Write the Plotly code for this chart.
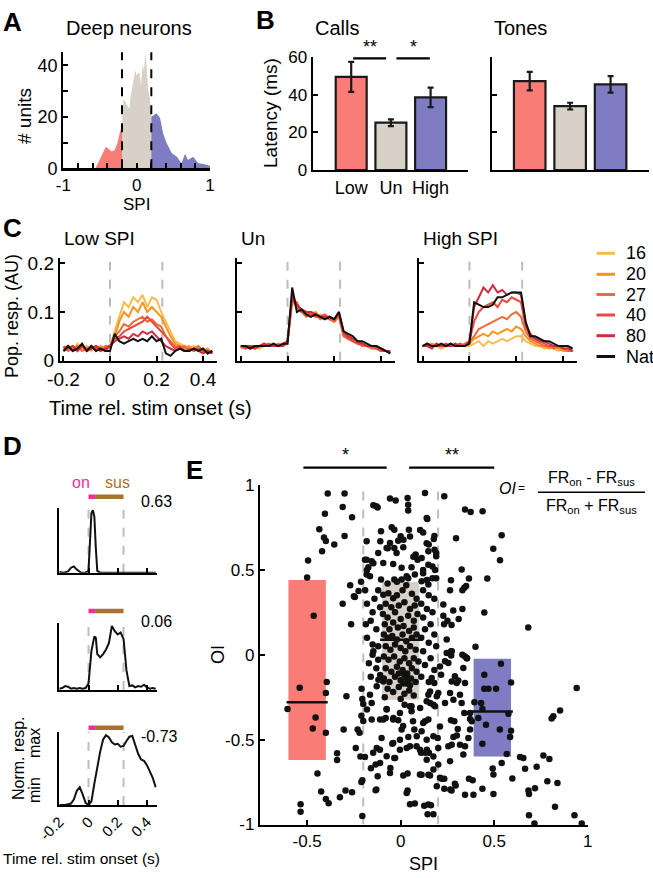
import plotly.graph_objects as go

# ======================= DATA =======================
# Panel A: SPI distribution of deep neurons (# units)
hist_low_spi = [-0.56, -0.5, -0.45, -0.42, -0.38, -0.34, -0.3, -0.26, -0.22, -0.2]
hist_low_n = [0, 3.5, 7, 8.4, 7.5, 6.5, 7, 10, 15, 16]
hist_un_spi = [-0.2, -0.18, -0.16, -0.14, -0.12, -0.1, -0.08, -0.06, -0.04, -0.02, 0, 0.02,
               0.04, 0.06, 0.08, 0.1, 0.12, 0.14, 0.16, 0.18, 0.2]
hist_un_n = [16, 27, 26, 25, 24, 23, 28, 32, 36, 38, 36, 37, 37, 32, 40, 38, 45, 36, 30, 27, 21]
hist_high_spi = [0.2, 0.24, 0.27, 0.32, 0.36, 0.41, 0.48, 0.55, 0.61, 0.66, 0.7, 0.77, 0.84, 0.91, 0.98, 1.0]
hist_high_n = [20, 21, 21.4, 19.5, 13.6, 9.7, 5.8, 4.5, 2, 5.6, 3.2, 4.5, 2, 1.7, 1.2, 1]
spi_bounds = [-0.2, 0.2]

# Panel B: latency (ms)
groups = ["Low", "Un", "High"]
calls_latency = [49.6, 25.2, 38.7]
calls_sem = [8.0, 1.8, 5.2]
tones_latency = [47.3, 34.0, 45.6]
tones_sem = [4.9, 1.8, 4.4]

# Panel C: population responses (AU), time rel. stim onset (s)
t_c = [-0.2, -0.18, -0.16, -0.14, -0.12, -0.1, -0.08, -0.06, -0.04, -0.02, 0.0, 0.02, 0.04, 0.06,
       0.08, 0.1, 0.12, 0.14, 0.16, 0.18, 0.2, 0.22, 0.24, 0.26, 0.28, 0.3, 0.32, 0.34, 0.36, 0.38,
       0.4, 0.42, 0.44]
c_series = ["16", "20", "27", "40", "80", "Nat"]
c_low = {
    "16": [0.025, 0.03, 0.02, 0.035, 0.025, 0.03, 0.02, 0.03, 0.025, 0.02, 0.03, 0.06, 0.09, 0.12, 0.11, 0.13, 0.12,
           0.135, 0.11, 0.13, 0.125, 0.10, 0.08, 0.06, 0.04, 0.035, 0.03, 0.025, 0.03, 0.02, 0.025, 0.02, 0.02],
    "20": [0.02, 0.025, 0.03, 0.02, 0.03, 0.025, 0.03, 0.02, 0.03, 0.025, 0.03, 0.05, 0.08, 0.10, 0.09, 0.11, 0.10,
           0.12, 0.10, 0.11, 0.10, 0.09, 0.07, 0.05, 0.035, 0.03, 0.025, 0.03, 0.02, 0.025, 0.02, 0.025, 0.015],
    "27": [0.03, 0.02, 0.025, 0.03, 0.02, 0.025, 0.03, 0.025, 0.02, 0.03, 0.03, 0.05, 0.06, 0.075, 0.07, 0.08, 0.085,
           0.09, 0.08, 0.085, 0.075, 0.07, 0.05, 0.04, 0.03, 0.025, 0.03, 0.02, 0.025, 0.03, 0.02, 0.02, 0.015],
    "40": [0.025, 0.03, 0.02, 0.025, 0.03, 0.02, 0.025, 0.03, 0.025, 0.02, 0.03, 0.045, 0.05, 0.06, 0.065, 0.07, 0.075,
           0.08, 0.09, 0.08, 0.07, 0.06, 0.05, 0.035, 0.025, 0.03, 0.02, 0.025, 0.02, 0.025, 0.02, 0.015, 0.02],
    "80": [0.02, 0.025, 0.03, 0.02, 0.03, 0.02, 0.025, 0.03, 0.02, 0.025, 0.03, 0.04, 0.045, 0.05, 0.045, 0.055, 0.05,
           0.06, 0.055, 0.06, 0.05, 0.04, 0.03, 0.025, 0.02, 0.025, 0.02, 0.02, 0.025, 0.02, 0.015, 0.02, 0.015],
    "Nat": [0.02, 0.03, 0.02, 0.025, 0.035, 0.02, 0.03, 0.02, 0.025, 0.02, 0.02, 0.055, 0.04, 0.035, 0.04, 0.045, 0.04,
            0.045, 0.04, 0.05, 0.04, 0.045, 0.015, 0.01, 0.02, 0.025, 0.02, 0.02, 0.025, 0.02, 0.025, 0.015, 0.02],
}
c_un = {
    "16": [0.03, 0.025, 0.03, 0.03, 0.025, 0.03, 0.035, 0.03, 0.03, 0.035, 0.04, 0.12, 0.11, 0.10, 0.095, 0.10, 0.09,
           0.095, 0.09, 0.085, 0.085, 0.09, 0.05, 0.045, 0.04, 0.035, 0.035, 0.03, 0.025, 0.025, 0.02, 0.02, 0.015],
    "20": [0.025, 0.03, 0.03, 0.025, 0.03, 0.03, 0.03, 0.035, 0.03, 0.03, 0.035, 0.13, 0.11, 0.105, 0.10, 0.095, 0.10,
           0.09, 0.09, 0.09, 0.08, 0.095, 0.055, 0.05, 0.04, 0.04, 0.03, 0.03, 0.03, 0.025, 0.02, 0.02, 0.015],
    "27": [0.03, 0.03, 0.025, 0.03, 0.03, 0.035, 0.03, 0.03, 0.035, 0.03, 0.04, 0.12, 0.12, 0.10, 0.09, 0.10, 0.095,
           0.085, 0.09, 0.085, 0.08, 0.09, 0.05, 0.045, 0.04, 0.035, 0.03, 0.03, 0.025, 0.025, 0.025, 0.02, 0.015],
    "40": [0.03, 0.025, 0.03, 0.03, 0.03, 0.03, 0.035, 0.03, 0.03, 0.035, 0.04, 0.13, 0.11, 0.10, 0.10, 0.095, 0.09,
           0.09, 0.095, 0.085, 0.085, 0.095, 0.055, 0.045, 0.04, 0.035, 0.035, 0.03, 0.03, 0.025, 0.02, 0.02, 0.02],
    "80": [0.03, 0.03, 0.03, 0.025, 0.03, 0.035, 0.03, 0.03, 0.03, 0.03, 0.04, 0.135, 0.115, 0.105, 0.10, 0.10, 0.095,
           0.09, 0.09, 0.09, 0.085, 0.10, 0.06, 0.05, 0.045, 0.04, 0.035, 0.03, 0.03, 0.03, 0.025, 0.02, 0.02],
    "Nat": [0.03, 0.03, 0.025, 0.03, 0.03, 0.03, 0.03, 0.035, 0.03, 0.035, 0.035, 0.15, 0.10, 0.105, 0.095, 0.09, 0.095,
            0.09, 0.085, 0.09, 0.085, 0.10, 0.06, 0.055, 0.05, 0.04, 0.04, 0.035, 0.03, 0.03, 0.025, 0.02, 0.015],
}
c_high = {
    "16": [0.03, 0.035, 0.03, 0.03, 0.025, 0.03, 0.035, 0.03, 0.03, 0.03, 0.03, 0.035, 0.04, 0.03, 0.04, 0.035, 0.04,
           0.045, 0.04, 0.045, 0.05, 0.05, 0.04, 0.035, 0.03, 0.03, 0.025, 0.03, 0.025, 0.02, 0.025, 0.02, 0.02],
    "20": [0.03, 0.03, 0.035, 0.03, 0.03, 0.035, 0.03, 0.03, 0.035, 0.03, 0.035, 0.045, 0.05, 0.055, 0.05, 0.06, 0.055,
           0.06, 0.065, 0.06, 0.07, 0.065, 0.05, 0.04, 0.035, 0.03, 0.03, 0.025, 0.03, 0.025, 0.02, 0.02, 0.02],
    "27": [0.03, 0.03, 0.03, 0.035, 0.03, 0.03, 0.035, 0.03, 0.03, 0.035, 0.04, 0.05, 0.065, 0.07, 0.075, 0.08, 0.085,
           0.09, 0.085, 0.095, 0.10, 0.09, 0.06, 0.045, 0.04, 0.035, 0.03, 0.03, 0.025, 0.03, 0.025, 0.02, 0.02],
    "40": [0.03, 0.035, 0.03, 0.03, 0.03, 0.035, 0.03, 0.03, 0.035, 0.03, 0.04, 0.08, 0.10, 0.11, 0.115, 0.12, 0.11,
           0.125, 0.12, 0.13, 0.125, 0.12, 0.07, 0.05, 0.045, 0.04, 0.035, 0.03, 0.03, 0.03, 0.025, 0.025, 0.02],
    "80": [0.03, 0.03, 0.025, 0.035, 0.03, 0.03, 0.03, 0.035, 0.03, 0.03, 0.04, 0.11, 0.13, 0.15, 0.14, 0.155, 0.14,
           0.145, 0.135, 0.14, 0.14, 0.135, 0.075, 0.055, 0.045, 0.04, 0.04, 0.035, 0.03, 0.03, 0.025, 0.025, 0.02],
    "Nat": [0.03, 0.035, 0.03, 0.03, 0.035, 0.03, 0.035, 0.03, 0.03, 0.03, 0.035, 0.12, 0.115, 0.11, 0.11, 0.115, 0.13,
            0.13, 0.135, 0.14, 0.14, 0.14, 0.08, 0.05, 0.05, 0.045, 0.04, 0.04, 0.035, 0.03, 0.03, 0.03, 0.025],
}
c_titles = ["Low SPI", "Un", "High SPI"]
stim_off_c = 0.225

# Panel D: example normalised responses
d1_t = [-0.2, -0.17, -0.14, -0.12, -0.1, -0.08, -0.05, -0.02, 0.0, 0.01, 0.02, 0.03, 0.04, 0.05, 0.06, 0.08,
        0.12, 0.2, 0.3, 0.4, 0.46]
d1_resp = [0.01, 0.0, 0.02, 0.08, 0.1, 0.05, 0.0, 0.0, 0.03, 0.5, 0.95, 1.0, 0.9, 0.4, 0.03, 0.0,
           0.0, 0.0, 0.0, 0.0, 0.0]
d2_t = [-0.2, -0.18, -0.16, -0.14, -0.12, -0.1, -0.08, -0.06, -0.04, -0.02, 0.0, 0.02, 0.04, 0.05, 0.06, 0.08,
        0.1, 0.12, 0.14, 0.16, 0.18, 0.2, 0.22, 0.24, 0.26, 0.28, 0.3, 0.32, 0.34, 0.36, 0.38, 0.4, 0.42, 0.44, 0.46]
d2_resp = [0.02, 0.03, 0.06, 0.05, 0.02, 0.03, 0.02, 0.03, 0.02, 0.03, 0.1, 0.6, 0.82, 0.8, 0.55, 0.5,
           0.55, 0.62, 0.72, 0.98, 0.9, 0.85, 0.88, 0.78, 0.3, 0.06, 0.07, 0.04, 0.06, 0.05, 0.08, 0.04, 0.02, 0.03, 0.02]
d3_t = [-0.2, -0.16, -0.12, -0.1, -0.08, -0.06, -0.04, -0.02, 0.0, 0.02, 0.04, 0.06, 0.08, 0.1, 0.12, 0.14,
        0.16, 0.18, 0.2, 0.22, 0.24, 0.26, 0.28, 0.3, 0.32, 0.34, 0.36, 0.38, 0.4, 0.42, 0.44, 0.46]
d3_resp = [0.0, 0.0, 0.02, 0.08, 0.2, 0.25, 0.15, 0.03, 0.0, 0.05, 0.3, 0.55, 0.75, 0.92, 0.98, 0.95,
           0.88, 0.85, 0.86, 0.82, 0.83, 0.9, 0.96, 0.97, 0.85, 0.72, 0.64, 0.62, 0.56, 0.48, 0.38, 0.25]
d_oi_labels = ["0.63", "0.06", "-0.73"]
on_window = [0.0, 0.045]
sus_window = [0.045, 0.24]
stim_off_d = 0.24

# Panel E: OI vs SPI per unit
e_points = [
    # low-SPI side
    (-0.39, 0.95), (-0.30, 0.95), (-0.31, 0.87), (-0.405, 0.83), (-0.26, 0.81), (-0.435, 0.74), (-0.41, 0.69),
    (-0.40, 0.67), (-0.355, 0.65), (-0.30, 0.70), (-0.42, 0.61), (-0.495, 0.555), (-0.50, 0.455), (-0.465, 0.23),
    (-0.27, 0.41), (-0.212, 0.43), (-0.245, 0.34), (-0.225, 0.375), (-0.31, 0.30), (-0.265, 0.18), (-0.25, 0.345),
    (-0.54, -0.195), (-0.395, -0.16), (-0.40, -0.225), (-0.605, -0.32), (-0.455, -0.37), (-0.47, -0.435),
    (-0.40, -0.46), (-0.29, -0.245), (-0.305, -0.44), (-0.34, -0.58), (-0.34, -0.62), (-0.24, -0.55),
    (-0.23, -0.44), (-0.22, -0.46), (-0.445, -0.70), (-0.425, -0.805), (-0.40, -0.85), (-0.385, -0.875),
    (-0.535, -0.88), (-0.535, -0.925), (-0.325, -0.84), (-0.295, -0.80), (-0.26, -0.81), (-0.205, -0.74),
    (-0.21, -0.75), (-0.205, -0.95), (-0.209, -0.20), (-0.205, -0.26), (-0.21, -0.36), (-0.2, -0.39),
    (-0.2, -0.29), (-0.215, -0.6),
    # unselective, upper part
    (-0.146, 0.88), (-0.123, 0.868), (-0.13, 0.875), (-0.057, 0.92), (-0.027, 0.908), (0.037, 0.924),
    (0.04, 0.884), (0.04, 0.85), (0.139, 0.806), (0.13, 0.953), (-0.048, 0.751), (-0.034, 0.737),
    (-0.105, 0.728), (0.044, 0.737), (0.0, 0.698), (-0.013, 0.672), (-0.109, 0.668), (-0.057, 0.658),
    (-0.075, 0.629), (-0.034, 0.629), (0.014, 0.633), (0.08, 0.59), (0.112, 0.57), (0.148, 0.61),
    (-0.182, 0.668), (-0.182, 0.56), (-0.155, 0.551), (-0.093, 0.541), (-0.04, 0.535), (0.005, 0.512),
    (0.058, 0.516), (-0.173, 0.516), (-0.182, 0.473), (-0.164, 0.463), (-0.105, 0.443), (-0.034, 0.443),
    (0.005, 0.443), (0.032, 0.463), (0.076, 0.473), (0.112, 0.433), (0.148, 0.414), (0.142, 0.80),
    (0.177, 0.682), (0.181, 0.618), (0.104, 0.735), (0.05, 0.696), (0.015, 0.677), (0.139, 0.657),
    (0.148, 0.53), (0.184, 0.50), (0.068, 0.578), (0.09, 0.559), (-0.191, 0.559), (-0.146, 0.539),
    (-0.18, 0.50), (-0.069, 0.627), (-0.022, 0.60), (-0.12, 0.60), (0.12, 0.48), (0.17, 0.45), (0.19, 0.58),
    # unselective, central cluster
    (-0.093, 0.353), (-0.066, 0.362), (-0.04, 0.333), (-0.02, 0.35), (0.01, 0.38), (0.03, 0.41), (0.06, 0.36),
    (0.085, 0.33), (-0.08, 0.30), (-0.05, 0.28), (-0.01, 0.29), (0.02, 0.31), (0.05, 0.27), (0.075, 0.29),
    (-0.095, 0.24), (-0.07, 0.22), (-0.03, 0.25), (0.0, 0.21), (0.04, 0.23), (0.07, 0.20), (0.09, 0.24),
    (-0.085, 0.18), (-0.06, 0.15), (-0.04, 0.19), (-0.015, 0.16), (0.015, 0.17), (0.045, 0.14), (0.07, 0.16),
    (-0.09, 0.12), (-0.07, 0.10), (-0.045, 0.11), (-0.02, 0.09), (0.01, 0.12), (0.03, 0.08), (0.06, 0.10),
    (0.085, 0.12), (-0.08, 0.05), (-0.055, 0.03), (-0.03, 0.06), (0.0, 0.04), (0.025, 0.02), (0.05, 0.05),
    (0.08, 0.03), (-0.09, -0.01), (-0.065, -0.03), (-0.035, -0.01), (-0.005, -0.04), (0.02, -0.02),
    (0.045, -0.05), (0.07, -0.02), (0.095, -0.04), (-0.08, -0.08), (-0.05, -0.10), (-0.02, -0.07),
    (0.01, -0.09), (0.035, -0.11), (0.06, -0.08), (0.085, -0.10), (-0.09, -0.14), (-0.06, -0.16),
    (-0.03, -0.13), (0.0, -0.15), (0.03, -0.17), (0.055, -0.14), (0.08, -0.16), (-0.07, -0.20),
    (-0.04, -0.22), (-0.01, -0.19), (0.02, -0.23), (0.045, -0.21), (0.07, -0.24), (-0.085, -0.25),
    (0.0, -0.26), (-0.02, 0.43), (0.04, 0.45), (-0.07, 0.42), (0.02, -0.12), (0.03, -0.135), (0.04, -0.15),
    (0.012, -0.17), (-0.01, -0.11), (0.05, -0.18),
    # unselective, side strips
    (-0.18, 0.30), (-0.15, 0.25), (-0.16, 0.20), (-0.13, 0.15), (-0.18, 0.10), (-0.12, 0.05), (-0.15, 0.0),
    (-0.17, -0.05), (-0.13, -0.08), (-0.11, -0.12), (-0.16, -0.13), (-0.19, 0.38), (-0.12, 0.38),
    (-0.14, 0.33), (-0.11, 0.28), (-0.15, 0.06), (-0.12, -0.03), (-0.186, 0.18), (-0.146, 0.02),
    (0.12, 0.38), (0.15, 0.35), (0.18, 0.33), (0.11, 0.30), (0.14, 0.27), (0.17, 0.25), (0.12, 0.22),
    (0.16, 0.18), (0.13, 0.15), (0.18, 0.12), (0.11, 0.10), (0.15, 0.07), (0.19, 0.05), (0.12, 0.02),
    (0.16, -0.02), (0.13, -0.06), (0.18, -0.09), (0.11, -0.13), (0.15, -0.16), (0.19, 0.45), (0.14, 0.44),
    (0.17, 0.52), (0.12, 0.50), (0.19, 0.60), (0.15, 0.65), (0.18, 0.70), (0.12, 0.72),
    # unselective, lower part
    (-0.164, -0.235), (-0.155, -0.284), (-0.11, -0.382), (-0.08, -0.373), (-0.039, -0.373), (-0.013, -0.386),
    (0.005, -0.441), (-0.128, -0.186), (-0.119, -0.147), (-0.093, -0.157), (-0.102, -0.49), (-0.128, -0.549),
    (-0.045, -0.524), (-0.004, -0.559), (0.032, -0.549), (0.041, -0.484), (-0.034, -0.608), (0.014, -0.712),
    (0.037, -0.70), (0.032, -0.814), (0.076, -0.876), (0.103, -0.706), (0.148, -0.882), (-0.159, -0.669),
    (-0.134, -0.647), (-0.123, -0.716), (-0.134, -0.798), (-0.055, -0.667), (-0.191, -0.602), (-0.075, -0.32),
    (0.058, -0.333), (0.073, -0.441), (0.112, -0.451), (0.13, -0.392), (0.085, -0.539), (0.109, -0.578),
    (0.14, -0.559), (0.058, -0.304), (0.021, -0.294), (0.037, -0.80), (0.05, -0.88), (0.126, -0.89),
    (0.144, -0.94), (0.112, -0.707), (0.148, -0.707), (0.139, -0.618), (0.175, -0.60), (0.175, -0.676),
    (0.193, -0.775), (-0.057, -0.696), (-0.03, -0.608), (-0.11, -0.637), (-0.13, -0.794), (-0.147, -0.578),
    (-0.111, -0.559), (-0.075, -0.598), (-0.04, -0.52), (-0.004, -0.50), (0.05, -0.539), (0.086, -0.48),
    (0.103, -0.559), (0.13, -0.578), (-0.04, -0.382), (0.013, -0.42), (0.066, -0.392), (0.12, -0.402),
    (-0.093, -0.382), (-0.155, -0.382), (-0.18, -0.323), (-0.075, -0.323), (-0.004, -0.343), (0.05, -0.304),
    (0.104, -0.314), (0.157, -0.284), (0.193, -0.245), (0.157, -0.216),
    # high-SPI side
    (0.233, 0.933), (0.344, 0.855), (0.374, 0.841), (0.438, 0.845), (0.54, 0.704), (0.296, 0.686),
    (0.495, 0.625), (0.531, 0.557), (0.326, 0.502), (0.463, 0.449), (0.365, 0.449), (0.269, 0.439),
    (0.264, 0.38), (0.33, 0.38), (0.34, 0.395), (0.35, 0.405), (0.228, 0.296), (0.33, 0.27), (0.447, 0.249),
    (0.682, 0.161), (0.25, 0.2), (0.272, 0.175), (0.232, 0.18), (0.31, 0.21), (0.246, 0.09), (0.40, 0.047),
    (0.27, 0.02), (0.27, -0.005), (0.33, 0.0), (0.355, -0.02), (0.228, 0.23), (0.281, 0.26),
    (0.941, -0.196), (0.852, -0.329), (0.816, -0.363), (0.807, -0.376), (0.536, -0.053), (0.447, -0.118),
    (0.447, -0.201), (0.469, -0.201), (0.51, -0.201), (0.59, -0.163), (0.394, -0.28), (0.43, -0.284),
    (0.437, -0.32), (0.415, -0.372), (0.456, -0.412), (0.53, -0.441), (0.59, -0.447), (0.585, -0.485),
    (0.576, -0.347), (0.437, -0.524), (0.567, -0.584), (0.54, -0.637), (0.492, -0.67), (0.496, -0.706),
    (0.597, -0.729), (0.638, -0.602), (0.656, -0.608), (0.763, -0.594), (0.795, -0.614), (0.727, -0.66),
    (0.665, -0.672), (0.784, -0.745), (0.838, -0.755), (0.683, -0.80), (0.686, -0.82), (0.718, -0.786),
    (0.496, -0.82), (0.437, -0.79), (0.344, -0.825), (0.389, -0.825), (0.825, -0.896), (0.686, -0.945),
    (0.929, -0.945), (0.715, -0.994), (0.968, -0.994), (0.162, -0.887), (0.175, -0.94), (0.365, -0.73),
    (0.385, -0.74), (0.29, -0.76), (0.233, -0.79), (0.272, -0.80), (0.22, -0.73), (0.265, -0.794),
    (0.294, -0.77), (0.201, -0.225), (0.264, -0.225), (0.282, -0.265), (0.30, -0.167), (0.344, -0.167),
    (0.317, -0.235), (0.326, -0.284), (0.237, -0.284), (0.184, -0.304), (0.21, -0.422), (0.269, -0.386),
    (0.287, -0.392), (0.305, -0.437), (0.282, -0.484), (0.30, -0.476), (0.317, -0.53), (0.255, -0.539),
    (0.273, -0.53), (0.362, -0.49), (0.371, -0.441), (0.344, -0.539), (0.198, -0.49), (0.201, -0.549),
    (0.151, -0.578), (0.201, -0.647), (0.264, -0.627), (0.335, -0.588), (0.38, -0.392), (0.34, -0.343),
    (0.371, -0.343), (0.371, -0.378), (0.21, -0.069), (0.237, -0.039), (0.255, -0.049), (0.216, -0.118),
    (0.29, -0.127), (0.273, -0.157), (0.308, -0.151), (0.335, -0.078), (0.246, 0.01), (0.273, 0.02),
    (0.344, -0.01), (0.353, -0.02), (0.166, -0.137), (0.18, -0.167), (0.148, -0.235), (0.139, -0.274),
    (0.175, -0.294), (0.148, -0.382), (0.139, -0.5), (0.175, -0.48), (0.21, -0.725), (0.233, -0.731),
    (0.157, -0.712),
]
e_spi = [p[0] for p in e_points]
e_oi = [p[1] for p in e_points]
# box = [x_left, x_right, q_low, median, q_high]
e_box_low = [-0.6, -0.4, -0.62, -0.28, 0.44]
e_box_un = [-0.1, 0.1, -0.265, 0.088, 0.43]
e_box_high = [0.39, 0.59, -0.60, -0.335, -0.024]

# ======================= STYLE =======================
W, H = 653, 878
FONT = "Liberation Sans, Arial, Helvetica, sans-serif"
RED = "#F97C77"
GRAYF = "#D8D1C7"
BLUE = "#7E7CC2"
DASH = "#BDBDBD"
PINK = "#EE2F93"
BROWN = "#A8732C"
C_COLORS = {"16": "#FDBB4F", "20": "#F7951E", "27": "#F26A35", "40": "#EB4A40", "80": "#D32B3E", "Nat": "#111111"}


def px(x):
    return x / W


def py(y):
    return 1 - y / H


def ax(dom_px, rng, anchor, tickvals=None, ticktext=None, labels=True, ticks="inside", size=16, vertical=False,
       minor_vals=None, **kw):
    if vertical:
        dom = [py(dom_px[1]), py(dom_px[0])]
    else:
        dom = [px(dom_px[0]), px(dom_px[1])]
    d = dict(domain=dom, range=rng, anchor=anchor, showline=True, linecolor="black", linewidth=2.2,
             ticks=ticks, ticklen=5, tickwidth=2, tickcolor="black", showgrid=False, zeroline=False,
             showticklabels=labels, tickfont=dict(size=size, color="black", family=FONT), fixedrange=True,
             automargin=False, layer="above traces")
    if tickvals is not None:
        d["tickmode"] = "array"
        d["tickvals"] = tickvals
    if ticktext is not None:
        d["ticktext"] = ticktext
    if minor_vals is not None:
        d["minor"] = dict(tickmode="array", tickvals=minor_vals, ticks="inside", ticklen=5, tickwidth=2,
                          tickcolor="black", showgrid=False)
    d.update(kw)
    return d


fig = go.Figure()
layout = {}
shapes = []
anns = []


def ann(text, x, y, size=16, xanchor="center", yanchor="middle", color="black", angle=0, xref="paper", **kw):
    anns.append(dict(text=text, x=px(x) if xref == "paper" else x, y=py(y), xref=xref, yref="paper",
                     showarrow=False, xanchor=xanchor, yanchor=yanchor, textangle=angle,
                     font=dict(size=size, color=color, family=FONT), **kw))


# ---------------- Panel A ----------------
for xs, ys, col in [(hist_low_spi, hist_low_n, RED), (hist_un_spi, hist_un_n, GRAYF),
                    (hist_high_spi, hist_high_n, BLUE)]:
    fig.add_trace(go.Scatter(x=xs, y=ys, mode="lines", fill="tozeroy", fillcolor=col,
                             line=dict(width=0, color=col), xaxis="x", yaxis="y", hoverinfo="skip"))
layout["xaxis"] = ax([63.3, 210], [-1, 1], "y", tickvals=[-1, 0, 1], ticktext=["-1", "0", "1"], size=17,
                     minor_vals=[-0.8, -0.6, -0.4, -0.2, 0.2, 0.4, 0.6, 0.8])
layout["yaxis"] = ax([52.3, 168.3], [0, 45], "x", tickvals=[0, 20, 40], ticktext=["0", "20", "40"], size=18,
                     vertical=True, minor_vals=[10, 30])
for b in spi_bounds:
    shapes.append(dict(type="line", xref="x", yref="y domain", x0=b, x1=b, y0=0, y1=1,
                       line=dict(color="black", width=2, dash="dash")))
ann("<b>A</b>", 12, 22, size=26)
ann("Deep neurons", 129, 28, size=20)
ann("# units", 25, 116, size=19, angle=-90)
ann("SPI", 136, 205, size=17)

# ---------------- Panel B ----------------
for lat, sem, xa, ya in [(calls_latency, calls_sem, "x2", "y2"), (tones_latency, tones_sem, "x3", "y3")]:
    fig.add_trace(go.Bar(x=[1, 2, 3], y=lat, width=0.78,
                         marker=dict(color=[RED, GRAYF, BLUE], line=dict(color="#1a1a1a", width=2.2)),
                         error_y=dict(type="data", array=sem, color="#1a1a1a", thickness=2.2, width=3),
                         xaxis=xa, yaxis=ya, hoverinfo="skip"))
layout["xaxis2"] = ax([312.7, 468.3], [0.03, 3.95], "y2", tickvals=[1, 2, 3], ticktext=groups, ticks="", size=18)
layout["yaxis2"] = ax([57.3, 170], [0, 60], "x2", tickvals=[0, 20, 40, 60], vertical=True, size=17)
layout["xaxis3"] = ax([491.7, 649], [0.06, 3.95], "y3", tickvals=[1, 2, 3], labels=False, ticks="")
layout["yaxis3"] = ax([57.3, 170], [0, 60], "x3", tickvals=[0, 20, 40, 60], labels=False, vertical=True)
# significance bars (Low vs Un, Un vs High)
for x0, x1, star in [(1.05, 1.88, "**"), (2.14, 2.98, "*")]:
    shapes.append(dict(type="line", xref="x2", yref="paper", x0=x0, x1=x1, y0=py(58.3), y1=py(58.3),
                       line=dict(color="black", width=2.2)))
    anns.append(dict(text=star, x=(x0 + x1) / 2, y=py(47), xref="x2", yref="paper", showarrow=False,
                     yanchor="middle", font=dict(size=18, color="black", family=FONT)))
ann("<b>B</b>", 265, 20, size=26)
ann("Calls", 337, 28, size=20)
ann("Tones", 520, 28, size=20)
ann("Latency (ms)", 270, 113, size=19, angle=-90)

# ---------------- Panel C ----------------
c_doms = [[60, 217], [237.3, 395], [419, 577.3]]
for i, (panel, dom) in enumerate(zip([c_low, c_un, c_high], c_doms)):
    n = 4 + i
    for s in c_series:
        fig.add_trace(go.Scatter(x=t_c, y=panel[s], mode="lines", line=dict(color=C_COLORS[s], width=2),
                                 xaxis=f"x{n}", yaxis=f"y{n}", hoverinfo="skip"))
    layout[f"xaxis{n}"] = ax(dom, [-0.215, 0.46], f"y{n}", tickvals=[-0.2, 0, 0.2, 0.4],
                             ticktext=["-0.2", "0", "0.2", "0.4"], labels=(i == 0), size=19)
    layout[f"yaxis{n}"] = ax([258.3, 360.7], [0, 0.21], f"x{n}", tickvals=[0, 0.1, 0.2],
                             ticktext=["0", "0.1", "0.2"], labels=(i == 0), vertical=True, size=19)
    for xv in [0, stim_off_c]:
        shapes.append(dict(type="line", xref=f"x{n}", yref=f"y{n} domain", x0=xv, x1=xv, y0=0, y1=1,
                           line=dict(color=DASH, width=2, dash="dash"), layer="below"))
ann("<b>C</b>", 12, 228, size=26)
for title, dom in zip(c_titles, c_doms):
    ann(title, dom[0] + 1.5, 238, size=19, xanchor="left")
ann("Pop. resp. (AU)", 12, 316, size=18, angle=-90)
ann("Time rel. stim onset (s)", 150, 408, size=20)
leg_y = [253.3, 274.3, 294.5, 315, 335.7, 356.5]
for s, yy in zip(c_series, leg_y):
    shapes.append(dict(type="line", xref="paper", yref="paper", x0=px(596.5), x1=px(615), y0=py(yy), y1=py(yy),
                       line=dict(color=C_COLORS[s], width=3)))
    ann(s, 624, yy, size=18, xanchor="left")

# ---------------- Panel D ----------------
d_ydoms = [[508.3, 572.7], [622.7, 690], [731.7, 805]]
d_bar_y = [496.7, 611, 727.7]
d_lab_y = [501.7, 621.7, 736]
for i, (tt, rr) in enumerate([(d1_t, d1_resp), (d2_t, d2_resp), (d3_t, d3_resp)]):
    n = 7 + i
    fig.add_trace(go.Scatter(x=tt, y=rr, mode="lines", line=dict(color="#111111", width=2),
                             xaxis=f"x{n}", yaxis=f"y{n}", hoverinfo="skip"))
    layout[f"xaxis{n}"] = ax([59.3, 156.7], [-0.2, 0.467], f"y{n}", tickvals=[-0.2, 0, 0.2, 0.4],
                             ticktext=["-0.2", "0", "0.2", "0.4"], labels=(i == 2), size=15, tickangle=-45)
    layout[f"yaxis{n}"] = ax(d_ydoms[i], [0, 1.03], f"x{n}", ticks="", labels=False, vertical=True)
    for xv in [0, stim_off_d]:
        shapes.append(dict(type="line", xref=f"x{n}", yref=f"y{n} domain", x0=xv, x1=xv, y0=0, y1=1,
                           line=dict(color=DASH, width=2, dash="dash"), layer="below"))
    shapes.append(dict(type="line", xref=f"x{n}", yref="paper", x0=on_window[0], x1=on_window[1],
                       y0=py(d_bar_y[i]), y1=py(d_bar_y[i]), line=dict(color=PINK, width=4.5)))
    shapes.append(dict(type="line", xref=f"x{n}", yref="paper", x0=sus_window[0], x1=sus_window[1],
                       y0=py(d_bar_y[i]), y1=py(d_bar_y[i]), line=dict(color=BROWN, width=4.5)))
    ann(d_oi_labels[i], 139, d_lab_y[i], size=16, xanchor="left")
ann("<b>D</b>", 12, 446, size=26)
ann("on", 81, 482, size=16, color=PINK)
ann("sus", 117, 482, size=16, color=BROWN)
ann("Norm. resp.", 18, 758, size=16, angle=-90)
ann("max", 34, 743, size=16, angle=-90)
ann("min", 34, 790, size=16, angle=-90)
ann("Time rel. stim onset (s)", 82, 858, size=15.5)

# ---------------- Panel E ----------------
for box, col in [(e_box_low, RED), (e_box_un, GRAYF), (e_box_high, BLUE)]:
    shapes.append(dict(type="rect", xref="x10", yref="y10", x0=box[0], x1=box[1], y0=box[2], y1=box[4],
                       fillcolor=col, line=dict(width=0), layer="below"))
for xv in spi_bounds:
    shapes.append(dict(type="line", xref="x10", yref="y10", x0=xv, x1=xv, y0=-1, y1=1,
                       line=dict(color=DASH, width=2, dash="dash"), layer="below"))
fig.add_trace(go.Scatter(x=e_spi, y=e_oi, mode="markers", marker=dict(size=6.5, color="#111111"),
                         xaxis="x10", yaxis="y10", cliponaxis=False, hoverinfo="skip"))
for box in [e_box_low, e_box_un, e_box_high]:
    fig.add_trace(go.Scatter(x=[box[0] - 0.01, box[1] + 0.01], y=[box[3], box[3]], mode="lines",
                             line=dict(color="#111111", width=2.5), xaxis="x10", yaxis="y10", hoverinfo="skip"))
layout["xaxis10"] = ax([260, 588.3], [-0.752, 1.003], "y10", tickvals=[-0.5, 0, 0.5, 1],
                       ticktext=["-0.5", "0", "0.5", "1"], size=17)
layout["yaxis10"] = ax([485, 824.5], [-1, 1], "x10", tickvals=[-1, -0.5, 0, 0.5, 1],
                       ticktext=["-1", "-0.5", "0", "0.5", "1"], size=17, vertical=True)
for x0, x1, star in [(-0.52, -0.075, "*"), (0.045, 0.5, "**")]:
    shapes.append(dict(type="line", xref="x10", yref="paper", x0=x0, x1=x1, y0=py(467.7), y1=py(467.7),
                       line=dict(color="black", width=2.2)))
    anns.append(dict(text=star, x=(x0 + x1) / 2, y=py(455), xref="x10", yref="paper", showarrow=False,
                     yanchor="middle", font=dict(size=18, color="black", family=FONT)))
ann("<b>E</b>", 194, 470, size=26)
ann("OI", 218, 655, size=18, angle=-90)
ann("SPI", 423, 864, size=18)
ann("<i>OI</i>", 507, 488, size=16)
ann("=", 521, 488, size=12)
ann("FR<sub>on</sub> - FR<sub>sus</sub>", 591, 479, size=16)
ann("FR<sub>on</sub> + FR<sub>sus</sub>", 591, 506, size=16)
shapes.append(dict(type="line", xref="paper", yref="paper", x0=px(538), x1=px(645), y0=py(492.3), y1=py(492.3),
                   line=dict(color="black", width=1.5)))

fig.update_layout(template="none", width=W, height=H, margin=dict(l=0, r=0, t=0, b=0, pad=0),
                  paper_bgcolor="white", plot_bgcolor="rgba(0,0,0,0)", showlegend=False,
                  font=dict(family=FONT, color="black"), shapes=shapes, annotations=anns, bargap=0, **layout)
fig.write_html("out.html", config={"displayModeBar": False, "staticPlot": True},
               post_script="document.body.style.margin='0px';document.body.style.padding='0px';")
